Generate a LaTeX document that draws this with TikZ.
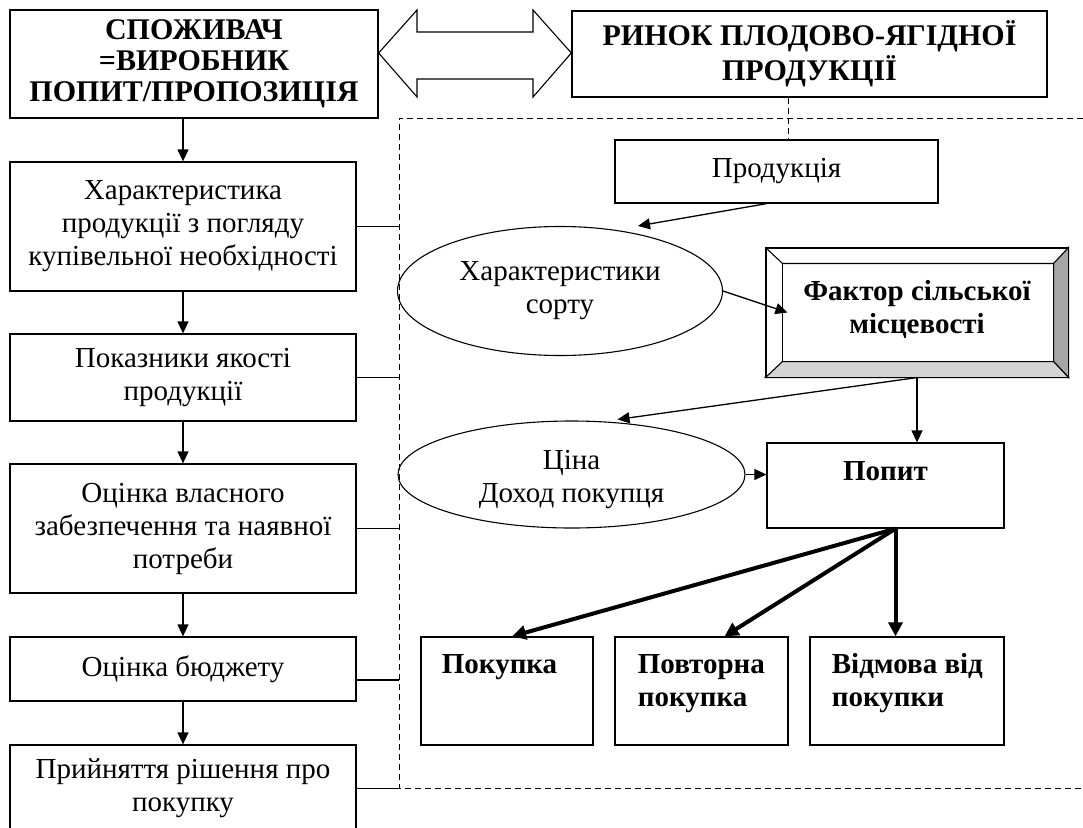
\documentclass[tikz,border=0pt]{standalone}
\usepackage{fontspec}
\setmainfont{Liberation Serif}[BoldFont={Liberation Serif Bold}]
\usetikzlibrary{arrows.meta,calc,shapes.geometric}
\begin{document}
\begin{tikzpicture}[x=1pt,y=-1pt,
  box/.style={draw,line width=1.3pt,inner sep=0pt,align=center,font=\fontsize{29}{33}\selectfont},
  head/.style={font=\bfseries\fontsize{30}{31}\selectfont},
  bold/.style={font=\bfseries\fontsize{29}{33}\selectfont},
  ell/.style={draw,ellipse,line width=1.1pt,inner sep=0pt,align=center,font=\fontsize{29}{33}\selectfont},
  arr/.style={line width=1.3pt,-{Triangle[length=12pt,width=11pt]}},
  tarr/.style={line width=4pt,-{Triangle[length=14pt,width=14pt]}},
  dline/.style={line width=1pt,dash pattern=on 6pt off 4pt},
  link/.style={line width=1.1pt},
  bev/.style={draw,line width=1.1pt}
]
\clip (0,0) rectangle (1083,827);
\fill[white] (0,0) rectangle (1083,827);

% top boxes
\node[box,head,minimum width=368pt,minimum height=108pt] (A) at (194,64) {СПОЖИВАЧ\\=ВИРОБНИК\\ПОПИТ/ПРОПОЗИЦІЯ};
\node[box,head,font=\bfseries\fontsize{30}{35}\selectfont,minimum width=475pt,minimum height=86pt] (B) at (809.5,54) {РИНОК ПЛОДОВО-ЯГІДНОЇ\\ПРОДУКЦІЇ};

% double arrow
\coordinate (y53) at (0,53);
\draw[line width=1.1pt,line join=miter] (A.east |- y53) -- (417,10) -- (417,32) -- (533,32) -- (533,10) -- (B.west |- y53) -- (533,97) -- (533,79) -- (417,79) -- (417,97) -- cycle;

% left column
\node[box,minimum width=346pt,minimum height=129pt] (L1) at (183,226.5) {Характеристика\\продукції з погляду\\купівельної необхідності};
\node[box,minimum width=346pt,minimum height=87pt] (L2) at (183,377.5) {Показники якості\\продукції};
\node[box,minimum width=346pt,minimum height=129pt] (L3) at (183,528.5) {Оцінка власного\\забезпечення та наявної\\потреби};
\node[box,minimum width=346pt,minimum height=64pt] (L4) at (183,669) {Оцінка бюджету};
\node[box,minimum width=346pt,minimum height=87pt] (L5) at (183,788.5) {Прийняття рішення про\\покупку};

\draw[arr] (L1.north |- A.south) -- (L1.north);
\draw[arr] (L1.south) -- (L2.north);
\draw[arr] (L2.south) -- (L3.north);
\draw[arr] (L3.south) -- (L4.north);
\draw[arr] (L4.south) -- (L5.north);

% dashed frame
\coordinate (fTL) at (399,118);
\coordinate (fTR) at (1083,118);
\coordinate (fBL) at (399,788);
\coordinate (fBR) at (1083,788);
\draw[dline] (fTR) -- (fTL) -- (fBL) -- (fBR);

\coordinate (c4) at (399,680);
\draw[link] (L1.east) -- (L1.east -| fTL);
\draw[link] (L2.east) -- (L2.east -| fTL);
\draw[link] (L3.east) -- (L3.east -| fTL);
\draw[link] (L4.east |- c4) -- (c4);
\draw[link] (L5.east) -- (L5.east -| fTL);

% right part
\node[box,minimum width=323pt,minimum height=63pt] (Pr) at (776.5,171.5) {Продукція};
\coordinate (dx) at (788,0);
\draw[dline] (B.south -| dx) -- (Pr.north -| dx);

\node[ell,minimum width=325pt,minimum height=129pt] (E1) at (560,291) {Характеристики\\сорту};
\draw[arr] ($(Pr.south)+(-10,0)$) -- ($(E1.north)+(78,0)$);

% bevel box
\node[bev,minimum width=302pt,minimum height=129pt,inner sep=0pt] (Bev) at (917,312.5) {};
\coordinate (iNW) at ($(Bev.north west)+(17,16)$);
\coordinate (iNE) at ($(Bev.north east)+(-15,16)$);
\coordinate (iSE) at ($(Bev.south east)+(-15,-16)$);
\coordinate (iSW) at ($(Bev.south west)+(17,-16)$);
\filldraw[bev,fill=black!35] (Bev.north east) -- (Bev.south east) -- (iSE) -- (iNE) -- cycle;
\filldraw[bev,fill=black!17] (Bev.south west) -- (Bev.south east) -- (iSE) -- (iSW) -- cycle;
\draw[bev] (Bev.north west) -- (iNW) -- (iNE);
\draw[bev] (iNW) -- (iSW);
\draw[bev] (Bev.north west) rectangle (Bev.south east);
\node[bold,align=center] (BevT) at ($(Bev.center)+(0,-3)$) {Фактор сільської\\місцевості};

\draw[arr] (E1.east) -- ($(Bev.west)+(22,0)$);

\node[ell,minimum width=347pt,minimum height=107pt] (E2) at (571.5,474.5) {};
\node[align=center,font=\fontsize{29}{33}\selectfont] (E2T) at ($(E2.center)+(0,5)$) {Ціна\\Доход покупця};
\node[box,minimum width=237pt,minimum height=85pt] (Pop) at (885.5,485.5) {};
\node[bold,anchor=base] (PopT) at ($(Pop.north)+(0,38)$) {Попит};

\draw[arr] (Bev.south) -- (Bev.south |- Pop.north);
\draw[arr] (Bev.south) -- ($(E2.north)+(46,-1)$);
\draw[arr] (E2.east) -- (E2.east -| Pop.west);

% bottom boxes
\node[box,minimum width=172pt,minimum height=108pt] (P1) at (507,691) {};
\node[box,minimum width=173pt,minimum height=108pt] (P2) at (701.5,691) {};
\node[box,minimum width=194pt,minimum height=108pt] (P3) at (907,691) {};
\node[bold,anchor=base west] (P1a) at ($(P1.north west)+(18,37)$) {Покупка};
\node[bold,anchor=base west] (P2a) at ($(P2.north west)+(20,37)$) {Повторна};
\node[bold,anchor=base west] (P2b) at ($(P2.north west)+(20,70)$) {покупка};
\node[bold,anchor=base west] (P3a) at ($(P3.north west)+(19,37)$) {Відмова від};
\node[bold,anchor=base west] (P3b) at ($(P3.north west)+(19,70)$) {покупки};

\coordinate (S) at ($(Pop.south)+(10,0)$);
\draw[tarr] (S) -- ($(P1.north)+(5,0)$);
\draw[tarr] (S) -- ($(P2.north)+(23,0)$);
\draw[tarr] (S) -- (S |- P3.north);
\end{tikzpicture}
\end{document}
